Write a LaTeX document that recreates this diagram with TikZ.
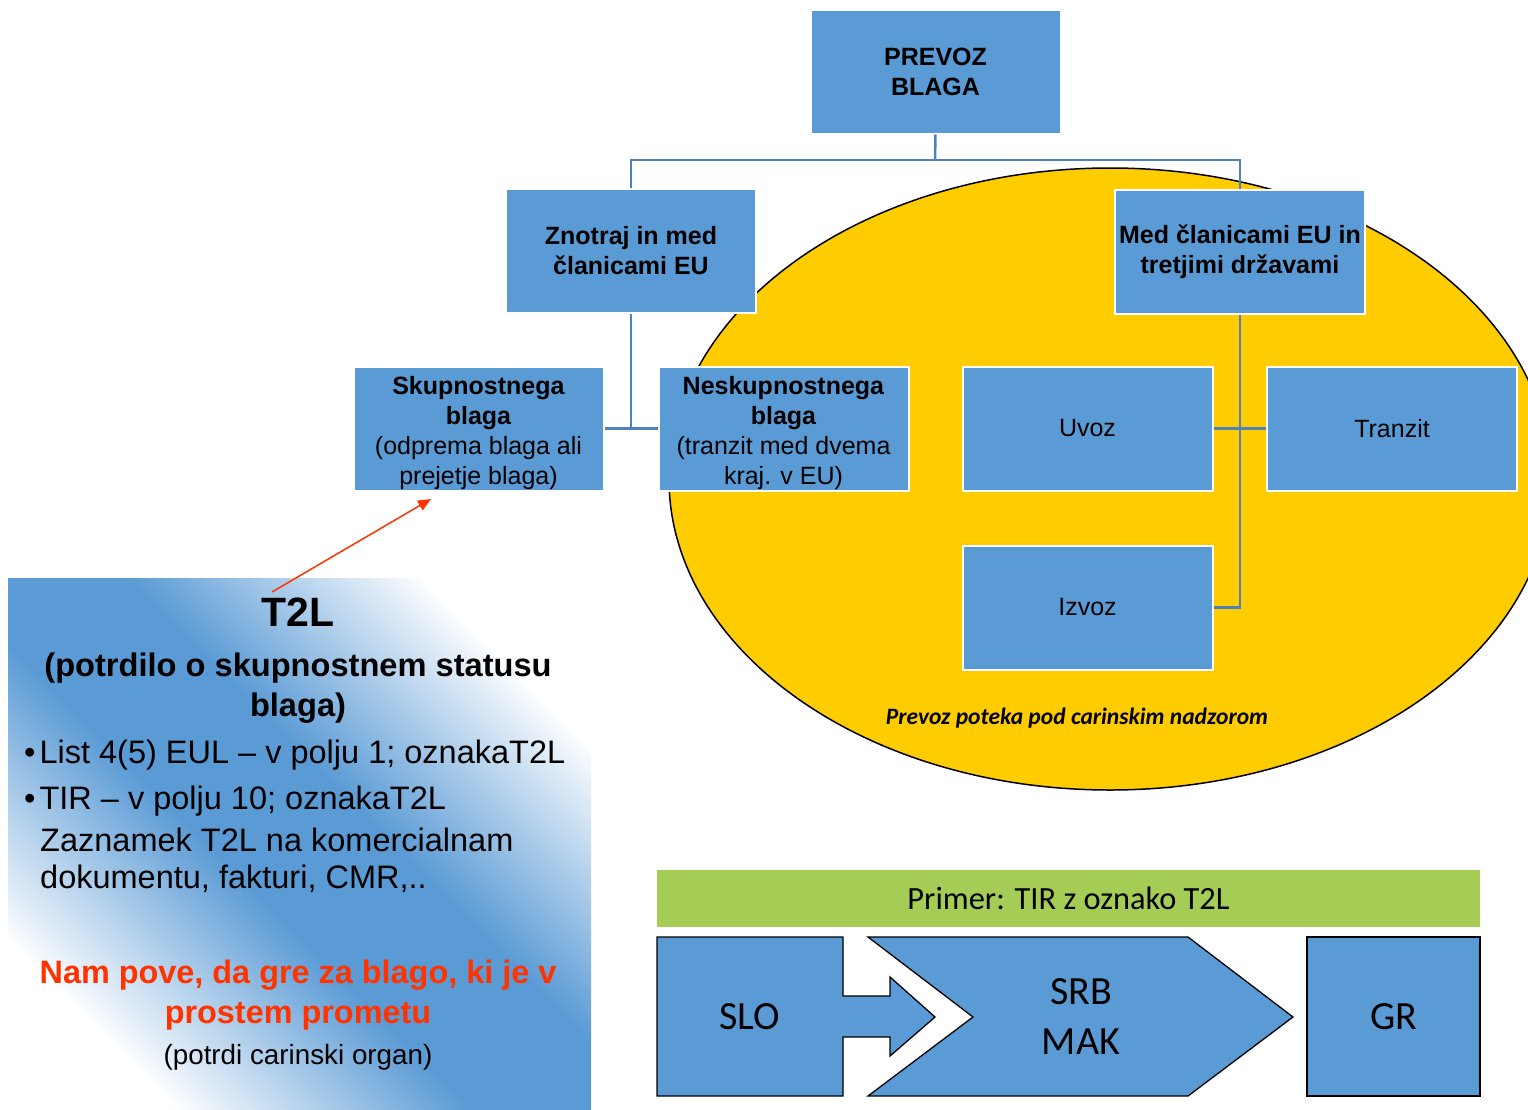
\documentclass[tikz,border=0pt]{standalone}
\usepackage{fontspec}
\setmainfont{Liberation Sans}
\newfontfamily\calib{Carlito}
\usetikzlibrary{arrows.meta}
\definecolor{boxblue}{RGB}{91,155,213}
\definecolor{connblue}{RGB}{79,129,189}
\definecolor{ellyellow}{RGB}{255,204,0}
\definecolor{bargreen}{RGB}{165,205,85}
\definecolor{redtxt}{RGB}{255,51,0}
\pgfdeclareverticalshading{panelshade}{100bp}{color(0bp)=(white); color(25bp)=(white); color(44bp)=(boxblue); color(56bp)=(boxblue); color(75bp)=(white); color(100bp)=(white)}
\begin{document}
\begin{tikzpicture}[x=1pt,y=-1pt,
  bbox/.style={fill=boxblue,draw=white,line width=2pt,inner sep=0pt,align=center,
    minimum width=250pt,minimum height=124pt,font=\fontsize{25}{30}\selectfont},
  conn/.style={draw=connblue,line width=2.5pt},
  shp/.style={fill=boxblue,draw=black,line width=1.3pt},
  cal/.style={font=\calib\fontsize{40}{50}\selectfont,align=center},
  panel/.style={align=center,inner sep=0pt}]
\useasboundingbox (0,0) rectangle (1528,1109);
\fill[white] (0,0) rectangle (1528,1109);
% yellow ellipse
\begin{scope}
\clip (0,0) rectangle (1528,1109);
\draw[fill=ellyellow,line width=1.5pt] (1110,479) ellipse [x radius=441pt,y radius=311pt];
\end{scope}
\node[font=\calib\bfseries\itshape\fontsize{23.5}{28}\selectfont] (nadzor) at (1077,718) {Prevoz poteka pod carinskim nadzorom};
% boxes
\node[bbox,font=\fontsize{25}{30}\selectfont\bfseries] (prevoz) at (935.5,71.5) {PREVOZ\\BLAGA};
\node[bbox,font=\fontsize{25}{30}\selectfont\bfseries] (znotraj) at (631,251) {Znotraj in med\\članicami EU};
\node[bbox,font=\fontsize{25}{30}\selectfont\bfseries] (med) at (1240,251.5) {Med članicami EU in\\tretjimi državami};
\node[bbox] (skup) at (478.5,428.5) {\mbox{}\\[-3.7pt]\textbf{Skupnostnega}\\\textbf{blaga}\\(odprema blaga ali\\prejetje blaga)};
\node[bbox] (nesk) at (783.5,428.5) {\mbox{}\\[-3.7pt]\textbf{Neskupnostnega}\\\textbf{blaga}\\(tranzit med dvema\\kraj. v EU)};
\node[bbox] (uvoz) at (1087.5,428.5) {Uvoz};
\node[bbox] (tranzit) at (1392,428.5) {Tranzit};
\node[bbox] (izvoz) at (1087.5,607.5) {Izvoz};
% connectors
\coordinate (topbus) at (935,160);
\coordinate (busL) at (631,160);
\coordinate (busR) at (1240,160);
\coordinate (leftstem) at (631,428.5);
\coordinate (rightstem) at (1240,607.5);
\draw[conn] (prevoz.south) -- (topbus);
\draw[conn] (znotraj.north) -- (busL) -- (busR) -- (med.north);
\draw[conn] (znotraj.south) -- (leftstem);
\draw[conn] (skup.east) -- (nesk.west);
\draw[conn] (med.south) -- (rightstem) -- (izvoz.east);
\draw[conn] (uvoz.east) -- (tranzit.west);
% left gradient panel
\shade[shading=panelshade,shading angle=-45] (8,578) rectangle (591,1109);
\node[panel,font=\fontsize{41}{48}\selectfont\bfseries] (t2l) at (298,612) {T2L};
\node[panel,font=\fontsize{32.6}{40}\selectfont\bfseries] (potrd) at (298,688) {(potrdilo o skupnostnem statusu\\blaga)};
\node[panel,anchor=west,font=\fontsize{32.5}{39}\selectfont] (b1) at (24,755) {•\hspace{4pt}List 4(5) EUL – v polju 1; oznakaT2L};
\node[panel,anchor=west,font=\fontsize{32.5}{39}\selectfont] (b2) at (24,801) {•\hspace{4pt}TIR – v polju 10; oznakaT2L};
\node[panel,anchor=west,font=\fontsize{32.5}{39}\selectfont] (z1) at (40,840) {Zaznamek T2L na komercialnam};
\node[panel,anchor=west,font=\fontsize{32.5}{39}\selectfont] (z2) at (40,879) {dokumentu, fakturi, CMR,..};
\node[panel,text=redtxt,font=\fontsize{32.4}{40}\selectfont\bfseries] (nam) at (298,995) {Nam pove, da gre za blago, ki je v\\prostem prometu};
\node[panel,font=\fontsize{27.8}{32}\selectfont] (organ) at (298,1057) {(potrdi carinski organ)};
% red arrow
\coordinate (arrS) at (272,592);
\coordinate (arrT) at (431,499);
\draw[redtxt,line width=1.5pt,-{Triangle[length=13pt,width=11pt]}] (arrS) -- (arrT);
% bottom example
\node[fill=bargreen,minimum width=823pt,minimum height=57pt,inner sep=0pt,font=\calib\fontsize{32.4}{36}\selectfont] (primer) at (1068.5,898.5) {Primer: TIR z oznako T2L};
\draw[shp] (657,937) -- (843,937) -- (843,996) -- (890,996) -- (890,977) -- (935,1017) -- (890,1056) -- (890,1037) -- (843,1037) -- (843,1096) -- (657,1096) -- cycle;
\node[cal] (slo) at (750,1017) {SLO};
\draw[shp] (868,937) -- (1188,937) -- (1293,1017) -- (1188,1096) -- (868,1096) -- (973,1017) -- cycle;
\node[cal] (srb) at (1081,1017) {SRB\\MAK};
\node[shp,minimum width=173pt,minimum height=159pt,inner sep=0pt,cal] (gr) at (1393.5,1016.5) {GR};
\end{tikzpicture}
\end{document}
